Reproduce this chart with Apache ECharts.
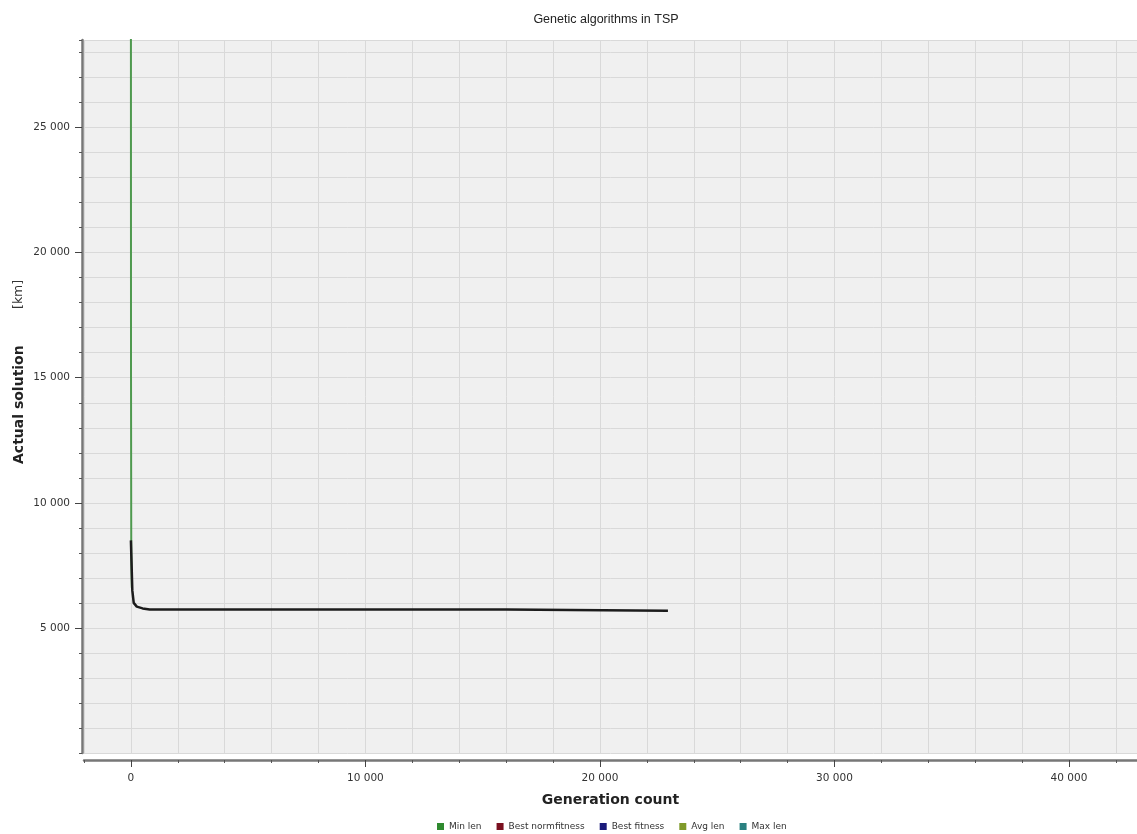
<!DOCTYPE html>
<html>
<head>
<meta charset="utf-8">
<script src="https://cdn.jsdelivr.net/npm/echarts@6/dist/echarts.min.js"></script>
<style>html,body{margin:0;padding:0;background:#fff}#c{width:1137px;height:834px}</style>
</head>
<body>
<div id="c"></div>
<script>
const titleText = 'Genetic algorithms in TSP';
const xName = 'Generation count';
const yNameBold = 'Actual solution';
const yNameUnit = '[km]';
const seriesNames = ['Min len', 'Best normfitness', 'Best fitness', 'Avg len', 'Max len'];
const seriesColors = ['#2f8a2f', '#7a1020', '#1a1a7a', '#7f9a2a', '#2a8080'];
// Min len (green), near generation 0
const minLenGen = [0, 5, 15, 40];
const minLenVal = [30000, 15000, 8000, 6600];
// Best fitness (dark line)
const bestGen = [0, 60, 120, 250, 500, 800, 16000, 16000, 22900];
const bestVal = [8500, 6500, 6000, 5850, 5780, 5740, 5740, 5690, 5690];
const xMajorTicks = [0, 10000, 20000, 30000, 40000];
const yMajorTicks = [5000, 10000, 15000, 20000, 25000];

const fmt = v => String(v).replace(/\B(?=(\d{3})+(?!\d))/g, ' ');
const pairs = (xs, ys) => xs.map((x, i) => [x, ys[i]]);
const FONT = 'Liberation Sans';
const TFONT = 'DejaVu Sans';

const chart = echarts.init(document.getElementById('c'));
const xCommon = {type: 'value', min: -2000, max: 42900, position: 'bottom', offset: 7};
const yCommon = {type: 'value', min: 0, max: 28500, position: 'left', offset: 2};
chart.setOption({
  animation: false,
  backgroundColor: '#fff',
  title: {text: titleText, left: 601, top: 8, textAlign: 'center',
    textStyle: {fontFamily: FONT, fontSize: 12.5, fontWeight: 'normal', color: '#222'}},
  grid: {left: 84, right: 0, top: 40, bottom: 81, show: true, backgroundColor: '#f0f0f0', borderWidth: 0},
  legend: {bottom: 3, left: 437, padding: 0, itemWidth: 7, itemHeight: 7, itemGap: 15, icon: 'rect',
    textStyle: {fontFamily: TFONT, fontSize: 9, color: '#333'}, data: seriesNames},
  xAxis: [
    Object.assign({}, xCommon, {interval: 2000,
      axisLine: {onZero: false, lineStyle: {color: '#777', width: 2.5}},
      axisTick: {length: 3, lineStyle: {color: '#555'}},
      axisLabel: {show: false},
      splitLine: {show: true, lineStyle: {color: '#d9d9d9', width: 1}}}),
    Object.assign({}, xCommon, {interval: 2000,
      name: xName, nameLocation: 'middle', nameGap: 33,
      nameTextStyle: {fontFamily: TFONT, fontSize: 14, fontWeight: 'bold', color: '#222'},
      axisLine: {show: false, onZero: false},
      axisTick: {show: true, length: 7, customValues: xMajorTicks, lineStyle: {color: '#444'}},
      axisLabel: {customValues: xMajorTicks, formatter: fmt, margin: 13,
        fontFamily: TFONT, fontSize: 10.5, color: '#333'},
      splitLine: {show: false}})
  ],
  yAxis: [
    Object.assign({}, yCommon, {interval: 1000,
      axisLine: {show: true, onZero: false, lineStyle: {color: '#777', width: 2.5}},
      axisTick: {show: true, length: 3, lineStyle: {color: '#555'}},
      axisLabel: {show: false},
      splitLine: {show: true, lineStyle: {color: '#d9d9d9', width: 1}}}),
    Object.assign({}, yCommon, {interval: 1000,
      axisLine: {show: false, onZero: false},
      axisTick: {show: true, length: 7, customValues: yMajorTicks, lineStyle: {color: '#444'}},
      axisLabel: {customValues: yMajorTicks, formatter: fmt, margin: 12,
        fontFamily: TFONT, fontSize: 10.5, color: '#333'},
      splitLine: {show: false}})
  ],
  graphic: [
    {type: 'text', x: 12, y: 464, rotation: Math.PI / 2,
      style: {text: yNameBold, fontFamily: TFONT, fontSize: 14, fontWeight: 'bold', fill: '#222',
        textAlign: 'left', textVerticalAlign: 'top'}},
    {type: 'text', x: 12, y: 309, rotation: Math.PI / 2,
      style: {text: yNameUnit, fontFamily: TFONT, fontSize: 12.5, fill: '#333',
        textAlign: 'left', textVerticalAlign: 'top'}}
  ],
  series: [
    {name: seriesNames[0], type: 'line', showSymbol: false, data: pairs(minLenGen, minLenVal),
      itemStyle: {color: seriesColors[0]}, lineStyle: {color: '#4f9a4f', width: 2}, z: 2},
    {name: seriesNames[1], type: 'line', showSymbol: false, data: [], itemStyle: {color: seriesColors[1]}},
    {name: seriesNames[2], type: 'line', showSymbol: false, data: pairs(bestGen, bestVal),
      itemStyle: {color: seriesColors[2]}, lineStyle: {color: '#1c1c1c', width: 2.5}, z: 3},
    {name: seriesNames[3], type: 'line', showSymbol: false, data: [], itemStyle: {color: seriesColors[3]}},
    {name: seriesNames[4], type: 'line', showSymbol: false, data: [], itemStyle: {color: seriesColors[4]}}
  ]
});
</script>
</body>
</html>
